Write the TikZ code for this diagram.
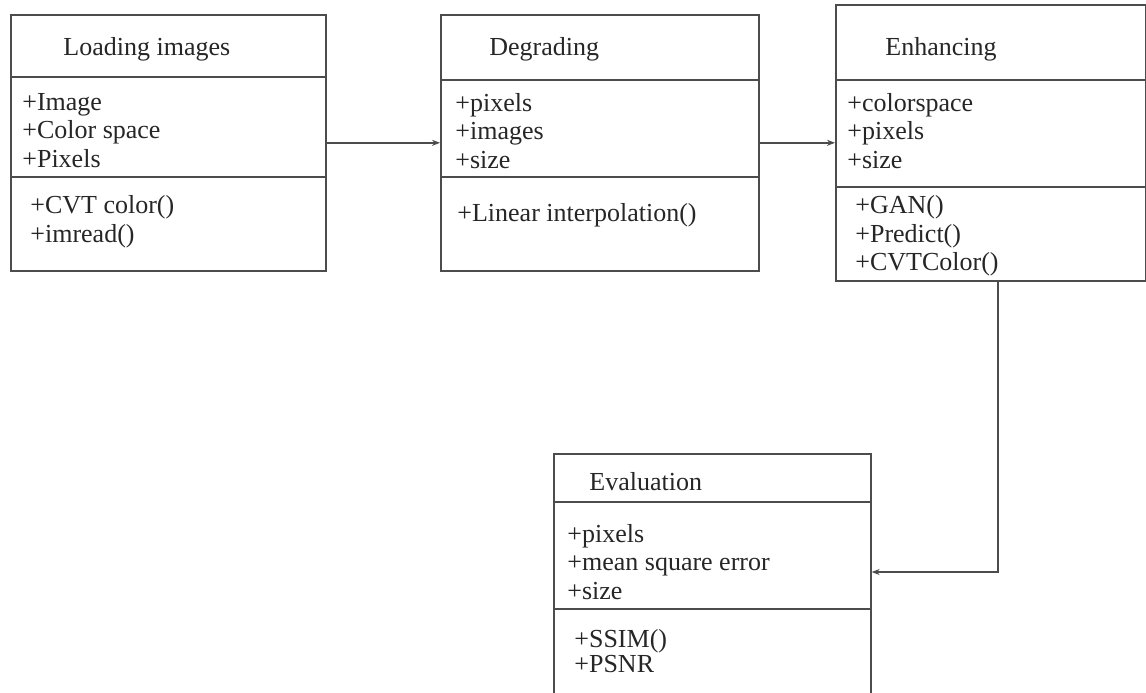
\documentclass[tikz,border=0pt]{standalone}
\usepackage{fontspec}
\setmainfont{Liberation Serif}
\usetikzlibrary{arrows.meta,positioning}
\tikzset{
	classbox/.style={rectangle, draw=black!70, line width=0.8pt, anchor=north west, inner sep=0pt},
	classtitle/.style={anchor=west, inner sep=0pt, font=\fontsize{13}{14.3}\selectfont, text=black!85},
	members/.style={anchor=west, inner sep=0pt, align=left, font=\fontsize{13}{14.3}\selectfont, text=black!85},
	divider/.style={draw=black!70, line width=0.8pt},
	arrow/.style={draw=black!70, line width=0.8pt, -{Stealth[length=4pt,width=3pt]}}
}

\begin{document}
\begin{tikzpicture}[x=0.5pt, y=-0.5pt]
		\useasboundingbox (0,0) rectangle (1146,692);
		
		% Classes
		\node (load) [classbox, minimum width=157.5pt, minimum height=128pt] at (10,14) {};
		\node (degr) [classbox, minimum width=159pt, minimum height=128pt] at (440,14) {};
		\node (enh) [classbox, minimum width=155pt, minimum height=138pt] at (835,4) {};
		\node (eval) [classbox, minimum width=158.5pt, minimum height=123.5pt] at (553,453) {};
		
		% Dividers
		\draw [divider] (load.west |- 0,77) -- (load.east |- 0,77);
		\draw [divider] (load.west |- 0,177) -- (load.east |- 0,177);
		\draw [divider] (degr.west |- 0,80) -- (degr.east |- 0,80);
		\draw [divider] (degr.west |- 0,177) -- (degr.east |- 0,177);
		\draw [divider] (enh.west |- 0,80) -- (enh.east |- 0,80);
		\draw [divider] (enh.west |- 0,187) -- (enh.east |- 0,187);
		\draw [divider] (eval.west |- 0,502) -- (eval.east |- 0,502);
		\draw [divider] (eval.west |- 0,609) -- (eval.east |- 0,609);
		
		% Texts
		\node (loadtitle) [classtitle] at (63,49) {Loading images};
		\node (loadattr) [members] at (22,130.5) {+Image\\+Color space\\+Pixels};
		\node (loadops) [members] at (30,221.5) {+CVT color()\\+imread()};
		
		\node (degrtitle) [classtitle] at (489,49) {Degrading};
		\node (degrattr) [members] at (455,131) {+pixels\\+images\\+size};
		\node (degrops) [members] at (457,215) {+Linear interpolation()};
		
		\node (enhtitle) [classtitle] at (885,49) {Enhancing};
		\node (enhattr) [members] at (847,131) {+colorspace\\+pixels\\+size};
		\node (enhops) [members] at (855,236) {+GAN()\\+Predict()\\+CVTColor()};
		
		\node (evaltitle) [classtitle] at (589,482) {Evaluation};
		\node (evalattr) [members] at (567,562) {+pixels\\+mean square error\\+size};
		\node (evalops) [members, font=\fontsize{13}{12.5}\selectfont] at (574,651) {+SSIM()\\+PSNR};
		
		% Arrows
		\coordinate (bend) at (998,572);
		\draw [arrow] (load) -- (degr);
		\draw [arrow] (degr) -- (enh);
		\draw [arrow] (enh.south -| bend) -- (bend) -- (eval.east |- bend);
		
	\end{tikzpicture}
\end{document}
